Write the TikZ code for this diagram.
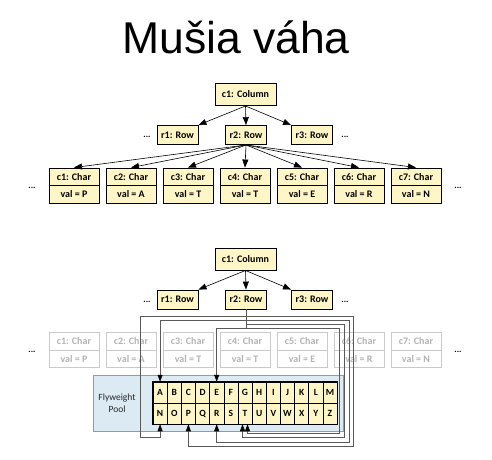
\documentclass[tikz,border=0pt]{standalone}
\usepackage{fontspec}
\setmainfont{Carlito}
\newfontfamily\titlefont{Liberation Sans}
\usetikzlibrary{arrows.meta}
\definecolor{boxfill}{HTML}{FFF6C8}
\definecolor{poolfill}{HTML}{DCEAF3}
\definecolor{refgray}{HTML}{5A5A5A}
\definecolor{fadegray}{HTML}{CACACA}
\definecolor{fadetext}{HTML}{B4B4B4}
\begin{document}
\begin{tikzpicture}[x=1pt,y=-1pt,
  obj/.style={draw=black, line width=0.9pt, fill=boxfill, inner sep=0pt, font=\bfseries\fontsize{10}{12}\selectfont, minimum height=19pt},
  colbox/.style={obj, minimum width=61pt, minimum height=22pt},
  rowbox/.style={obj, minimum width=41pt},
  charpart/.style={obj, minimum width=50pt, minimum height=17.5pt},
  fadepart/.style={charpart, draw=fadegray, fill=white, text=fadetext},
  dots/.style={font=\bfseries\fontsize{9}{11}\selectfont, inner sep=0pt},
  link/.style={draw=black, line width=0.6pt, -{Triangle[length=8pt,width=6pt]}},
  ref/.style={draw=refgray, line width=0.6pt, -{Triangle[black,length=7pt,width=5pt]}},
  cell/.style={draw=black, line width=0.5pt, fill=boxfill, minimum width=14.154pt, minimum height=21pt, inner sep=0pt, font=\bfseries\fontsize{9.5}{11}\selectfont},
]
\useasboundingbox[fill=white] (0,0) rectangle (492,459);

% title
\node[font=\titlefont\fontsize{44.5}{50}\selectfont, anchor=base, inner sep=0pt] (title) at (236,53) {Mušia váha};

% ---------- top diagram ----------
\node[colbox] (col1) at (245.5,94.5) {c1: Column};
\node[rowbox] (r1) at (177.5,135) {r1: Row};
\node[rowbox] (r2) at (246,135) {r2: Row};
\node[rowbox] (r3) at (312,135) {r3: Row};
\node[dots] (d1) at (147,137) {...};
\node[dots] (d2) at (345,137) {...};
\draw[link] (col1.south) -- (r1.north east);
\draw[link] (col1.south) -- (r2.north);
\draw[link] (col1.south) -- (r3.north west);
\foreach \i/\x/\v in {1/74/P,2/131/A,3/188/T,4/245/T,5/302/E,6/359/R,7/416/N}{
  \node[charpart] (c\i) at (\x,176.75) {c\i: Char};
  \node[charpart] (v\i) at (\x,194.25) {val = \v};
  \draw[link] (r2.south) -- (c\i.north);
}
\node[dots] (d3) at (32,188) {...};
\node[dots] (d4) at (458,188) {...};

% ---------- bottom diagram ----------
\node[colbox] (col2) at (245.5,259) {c1: Column};
\node[rowbox] (q1) at (177.5,299.5) {r1: Row};
\node[rowbox] (q2) at (246,299.5) {r2: Row};
\node[rowbox] (q3) at (312,299.5) {r3: Row};
\node[dots] (d5) at (147,301.5) {...};
\node[dots] (d6) at (345,301.5) {...};
\draw[link] (col2.south) -- (q1.north east);
\draw[link] (col2.south) -- (q2.north);
\draw[link] (col2.south) -- (q3.north west);
\foreach \i/\x/\v in {1/74/P,2/131/A,3/188/T,4/245/T,5/302/E,6/359/R,7/416/N}{
  \node[fadepart] (f\i) at (\x,341.25) {c\i: Char};
  \node[fadepart] (g\i) at (\x,358.75) {val = \v};
}
\node[dots] (d7) at (32,352) {...};
\node[dots] (d8) at (458,352) {...};

% pool
\node[draw=black!40, fill=poolfill, minimum width=250pt, minimum height=56pt, inner sep=0pt] (pool) at (218,403) {};
\node[font=\fontsize{9.5}{11.5}\selectfont, align=center, text=black!85] (pooltext) at (117,403) {Flyweight\\Pool};
\foreach \l [count=\i from 0] in {A,B,C,D,E,F,G,H,I,J,K,L,M}{
  \node[cell] (\l) at (160.077+14.154*\i,392.5) {\l};
}
\foreach \l [count=\i from 0] in {N,O,P,Q,R,S,T,U,V,W,X,Y,Z}{
  \node[cell] (\l) at (160.077+14.154*\i,413.5) {\l};
}
\draw[line width=1pt] (A.north west) rectangle (Z.south east);

% references from r2 into the pool
\coordinate (t1) at ([xshift=-2.5pt]T.south);
\coordinate (t2) at ([xshift=2.5pt]T.south);
\draw[ref] (q2.south) |- (140,316) |- (N.south |- 0,437) -- (N.south);
\draw[ref] (q2.south) |- (353,316) |- (P.south |- 0,446) -- (P.south);
\draw[ref] (q2.south) |- (A.north |- 0,320) -- (A.north);
\draw[ref] (q2.south) |- (349,320) |- (R.south |- 0,442) -- (R.south);
\draw[ref] (q2.south) |- (344,324) |- (t1 |- 0,437) -- (t1);
\draw[ref] (q2.south) |- (E.north |- 0,328) -- (E.north);
\draw[ref] (q2.south) |- (339,328) |- (t2 |- 0,433) -- (t2);
\end{tikzpicture}
\end{document}
